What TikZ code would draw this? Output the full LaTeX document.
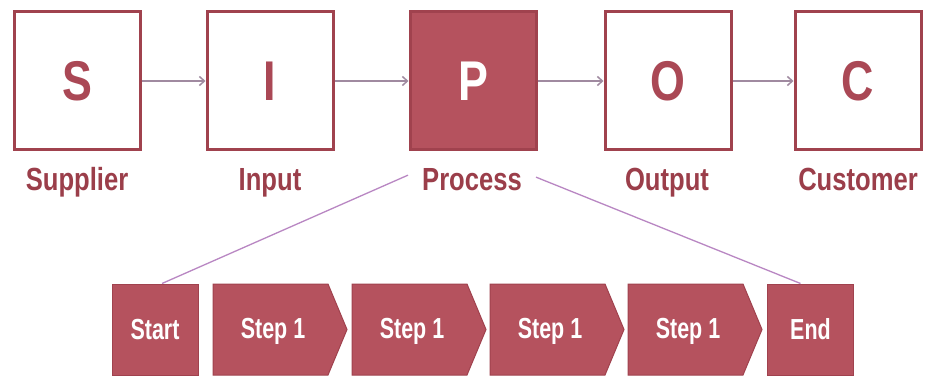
\documentclass[tikz,border=0pt]{standalone}
\usepackage{fontspec}
\newfontfamily\narrowsans[FakeStretch=0.8]{Liberation Sans}
\newfontfamily\narrowersans[FakeStretch=0.74]{Liberation Sans}
\usetikzlibrary{calc,arrows.meta}
\definecolor{sred}{RGB}{181,82,94}
\definecolor{sborder}{RGB}{160,66,78}
\definecolor{sletter}{RGB}{170,72,85}
\definecolor{slabel}{RGB}{155,62,74}
\definecolor{sarrow}{RGB}{160,138,160}
\definecolor{slink}{RGB}{185,135,195}
\tikzset{
  topbox/.style={draw=sborder, line width=3pt, fill=white, minimum width=126pt, minimum height=138pt, inner sep=0pt, text=sletter, font=\narrowsans\bfseries\fontsize{56}{60}\selectfont},
  pbox/.style={topbox, fill=sred, text=white},
  lbl/.style={anchor=base, text=slabel, inner sep=2pt, font=\narrowsans\bfseries\fontsize{32}{36}\selectfont},
  flowbox/.style={draw=sborder, line width=1pt, fill=sred, minimum width=86pt, minimum height=91pt, inner sep=0pt, text=white, font=\narrowersans\bfseries\fontsize{29}{32}\selectfont},
  chev/.style={draw=sborder, line width=1pt, fill=sred},
  steptext/.style={anchor=base, text=white, inner sep=0pt, font=\narrowersans\bfseries\fontsize{29}{32}\selectfont},
  flow/.style={draw=sarrow, line width=1.5pt, -{Straight Barb[length=5pt,width=9pt]}},
  link/.style={draw=slink, line width=1.3pt}
}
\begin{document}
\begin{tikzpicture}[x=1pt,y=-1pt]
\useasboundingbox[fill=white] (0,0) rectangle (929,377);
% top row
\node[topbox] (s) at (77,81) {S};
\node[topbox] (i) at (270,81) {I};
\node[pbox] (p) at (473,81) {P};
\node[topbox] (o) at (668,81) {O};
\node[topbox] (c) at (858,81) {C};
\node[lbl] (ls) at (77,190) {Supplier};
\node[lbl] (li) at (270,190) {Input};
\node[lbl] (lp) at (472,190) {Process};
\node[lbl] (lo) at (667,190) {Output};
\node[lbl] (lc) at (858,190) {Customer};
\draw[flow] (s) -- (i);
\draw[flow] (i) -- (p);
\draw[flow] (p) -- (o);
\draw[flow] (o) -- (c);
% bottom row
\node[flowbox] (start) at (155,329.5) {Start};
\node[flowbox] (end) at (810.5,329.5) {End};
\foreach \l/\n in {213/a,352/b,490/c,628/d}{
  \path[chev] (\l,284) -- ({\l+115},284) -- ({\l+134},329.5) -- ({\l+115},375) -- (\l,375) -- cycle;
  \node[steptext] (step\n) at ({\l+60},338) {Step 1};
}
\draw[link] ($(lp.west)+(-12,-4)$) -- ($(start.north)+(7,0)$);
\draw[link] ($(lp.east)+(12,-2)$) -- ($(end.north)+(-10,0)$);
\end{tikzpicture}
\end{document}
